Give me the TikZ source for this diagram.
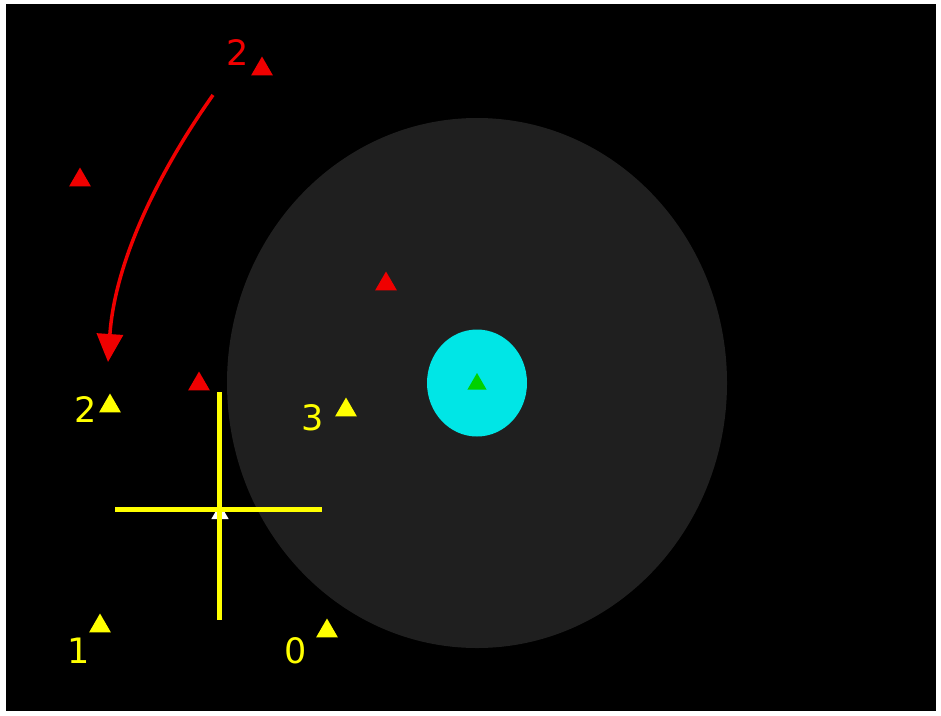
\documentclass[tikz,border=0pt]{standalone}
\usepackage{fontspec}
\setmainfont{DejaVu Sans}
\usetikzlibrary{shapes.geometric,arrows.meta}
\definecolor{bgray}{RGB}{31,31,31}
\definecolor{ycol}{RGB}{255,255,0}
\definecolor{rcol}{RGB}{240,0,0}
\definecolor{ccol}{RGB}{0,230,230}
\definecolor{gcol}{RGB}{0,210,0}
\tikzset{
  tri/.style={regular polygon, regular polygon sides=3, minimum size=25pt, inner sep=0pt, draw=none},
  ytri/.style={tri, fill=ycol},
  rtri/.style={tri, fill=rcol},
  lbl/.style={inner sep=0pt, font=\fontsize{35}{38}\selectfont},
  ylbl/.style={lbl, text=ycol},
  rlbl/.style={lbl, text=rcol},
  crossline/.style={draw=ycol, line width=5pt},
}
\begin{document}
\begin{tikzpicture}[x=1pt,y=-1pt]
\useasboundingbox (0,0) rectangle (941,715);
\fill[white] (0,0) rectangle (941,715);
\fill[black] (6,4) rectangle (936,711);
% big gray disc and cyan disc
\fill[bgray] (477,383) ellipse [x radius=250, y radius=265];
\fill[ccol] (477,383) ellipse [x radius=50, y radius=53.5];
\node[tri, fill=gcol, minimum size=22pt] (g) at (477,384) {};
% red triangles
\node[rtri] (r1) at (262,69) {};
\node[rlbl] (r1l) at (238,53) {2};
\node[rtri] (r2) at (80,180) {};
\node[rtri] (r3) at (386,284) {};
\node[rtri] (r4) at (199,384) {};
% arrow
\coordinate (a0) at (213,95);
\coordinate (a1) at (108,362);
\draw[rcol, line width=3.5pt, -{Triangle[width=26pt,length=28pt]}] (a0) .. controls (160,170) and (115,260) .. (a1);
% yellow triangles and labels
\node[ytri] (y2) at (110,406) {};
\node[ylbl] (y2l) at (86,410) {2};
\node[ytri] (y3) at (346,410) {};
\node[ylbl] (y3l) at (313,418) {3};
\node[ytri] (y1) at (100,626) {};
\node[ylbl] (y1l) at (79,651) {1};
\node[ytri] (y0) at (327,631) {};
\node[ylbl] (y0l) at (296,651) {0};
% cross
\node[tri, fill=white, minimum size=20pt] (w) at (220,514) {};
\coordinate (vt) at (219,392);
\coordinate (vb) at (219,620);
\coordinate (hl) at (115,509);
\coordinate (hr) at (322,509);
\draw[crossline] (vt) -- (vb);
\draw[crossline] (hl) -- (hr);
\end{tikzpicture}
\end{document}
